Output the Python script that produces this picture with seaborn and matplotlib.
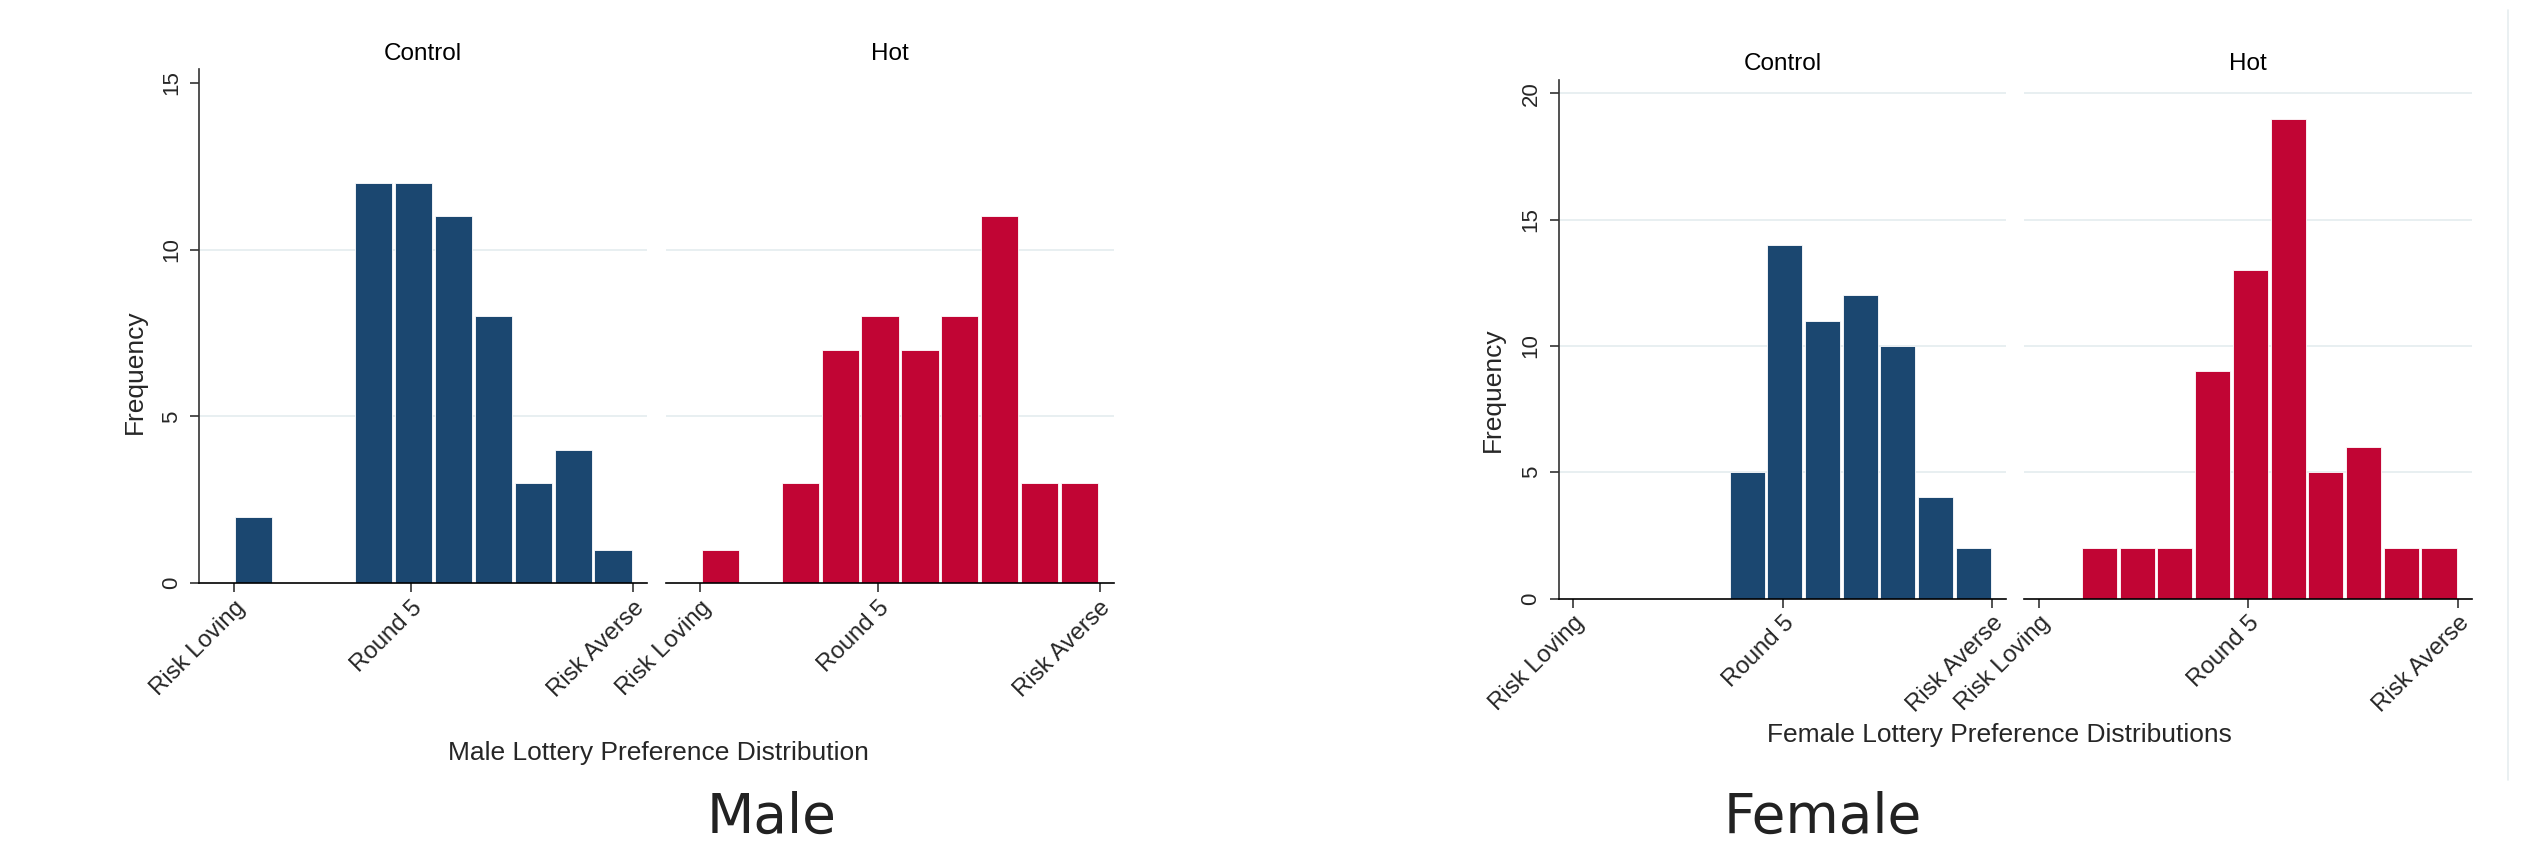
import numpy as np
import pandas as pd
import matplotlib
matplotlib.use("Agg")
import matplotlib.pyplot as plt
from matplotlib.lines import Line2D
import seaborn as sns

# Lottery preference: 10 bins spanning choices 1..10
tick_labels = ["Risk Loving", "Round 5", "Risk Averse"]
male_ticks = [1, 5, 10]
female_ticks = [0, 5, 10]

male_control = [2, 0, 0, 12, 12, 11, 8, 3, 4, 1]
male_hot = [1, 0, 3, 7, 8, 7, 8, 11, 3, 3]
female_control = [0, 0, 0, 5, 14, 11, 12, 10, 4, 2]
female_hot = [2, 2, 2, 9, 13, 19, 5, 6, 2, 2]

panel_titles = ["Control", "Hot"]
male_xlabel = "Male Lottery Preference Distribution"
female_xlabel = "Female Lottery Preference Distributions"
y_title = "Frequency"

NAVY = "#1b4770"
RED = "#c10534"
GRID = "#e6eef0"

sns.set_theme(style="white")
plt.rcParams["font.family"] = ["Liberation Sans", "DejaVu Sans"]

W, H = 2534, 857
fig = plt.figure(figsize=(W / 100, H / 100), dpi=100)
fig.patch.set_facecolor("white")

BIN_LO, BIN_HI, N_BINS = 1.0, 10.0, 10
BIN_W = (BIN_HI - BIN_LO) / N_BINS
centers = BIN_LO + BIN_W * (np.arange(N_BINS) + 0.5)


def px_axes(left, right, top, bottom):
    return fig.add_axes([left / W, 1 - bottom / H, (right - left) / W, (bottom - top) / H])


def panel(ax, counts, color, title, xlim, ylim, yticks, grid_vals, xticks, first):
    df = pd.DataFrame({"choice": centers, "n": np.asarray(counts, dtype=float)})
    sns.histplot(data=df, x="choice", weights="n", binwidth=BIN_W,
                 binrange=(BIN_LO, BIN_HI), shrink=0.93, color=color,
                 alpha=1, edgecolor="white", linewidth=0.6, ax=ax)
    ax.set_xlim(*xlim)
    ax.set_ylim(*ylim)
    for g in grid_vals:
        ax.axhline(g, color=GRID, lw=1.3, zorder=0)
    ax.set_facecolor("white")
    for s in ["top", "right"]:
        ax.spines[s].set_visible(False)
    ax.spines["bottom"].set_color("black")
    ax.spines["bottom"].set_linewidth(1.2)
    ax.set_xticks(xticks)
    ax.set_xticklabels(tick_labels, rotation=45, ha="right", rotation_mode="anchor",
                       fontsize=17.3)
    ax.tick_params(axis="x", length=6.3, width=1.2, color="#333333", pad=3.5,
                   bottom=True)
    if first:
        ax.spines["left"].set_color("#333333")
        ax.spines["left"].set_linewidth(1.2)
        ax.set_yticks(yticks)
        ax.set_yticklabels([str(v) for v in yticks], rotation=90, va="center",
                           fontsize=16)
        ax.tick_params(axis="y", length=6.3, width=1.2, color="#333333", pad=6,
                       left=True)
    else:
        ax.spines["left"].set_visible(False)
        ax.set_yticks([])
    ax.set_xlabel("")
    ax.set_ylabel("")
    ax.set_title(title, fontsize=17.5, pad=7, color="black")


# Male pair
m_xlim = (0.222, 10.318)
m_ylim = (0, 15.4)
ax = px_axes(199.5, 647, 69.3, 583.3)
panel(ax, male_control, NAVY, panel_titles[0], m_xlim, m_ylim, [0, 5, 10, 15], [5, 10],
      male_ticks, True)
ax = px_axes(666, 1113.6, 69.3, 583.3)
panel(ax, male_hot, RED, panel_titles[1], m_xlim, m_ylim, [0, 5, 10, 15], [5, 10],
      male_ticks, False)

# Female pair
f_xlim = (-0.35, 10.33)
f_ylim = (0, 20.53)
ax = px_axes(1558.7, 2006, 80, 598.5)
panel(ax, female_control, NAVY, panel_titles[0], f_xlim, f_ylim, [0, 5, 10, 15, 20],
      [5, 10, 15, 20], female_ticks, True)
ax = px_axes(2024, 2471.7, 80, 598.5)
panel(ax, female_hot, RED, panel_titles[1], f_xlim, f_ylim, [0, 5, 10, 15, 20],
      [5, 10, 15, 20], female_ticks, False)


def ftext(x, y, s, **kw):
    fig.text(x / W, 1 - y / H, s, ha="center", va="center", **kw)


ftext(658.5, 753, male_xlabel, fontsize=19)
ftext(1999, 735, female_xlabel, fontsize=19)
ftext(135, 372, y_title, fontsize=19, rotation=90)
ftext(1493, 390, y_title, fontsize=19, rotation=90)

ftext(772, 818, "Male", fontsize=39.5, color="#222222", family="DejaVu Sans")
ftext(1823, 818, "Female", fontsize=39.5, color="#222222", family="DejaVu Sans")

# thin border of the right-hand graph region
fig.add_artist(Line2D([2508 / W, 2508 / W], [1 - 10 / H, 1 - 780 / H], color=GRID,
                      lw=1.2, transform=fig.transFigure))

fig.savefig("out.png", dpi=100, facecolor="white")
